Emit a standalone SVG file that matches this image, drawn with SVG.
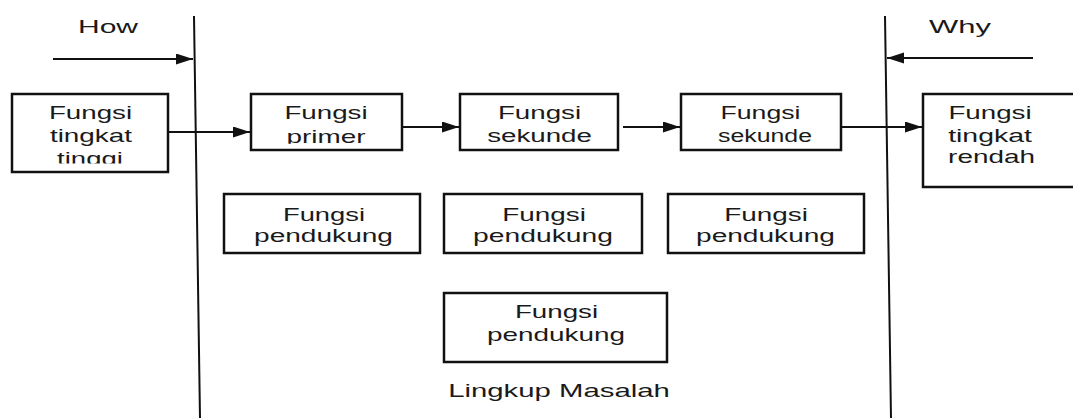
<svg xmlns="http://www.w3.org/2000/svg" width="1073" height="418" viewBox="0 0 1073 418">
  <style>
    .box { fill: #ffffff; stroke: #111111; stroke-width: 2.5; }
    .line { fill: none; stroke: #111111; stroke-width: 2; }
    .t { font-family: "Liberation Sans", Arial, sans-serif; font-size: 18px; fill: #1a1a1a; text-anchor: middle; }
    .h { font-size: 19px; }
  </style>
  <defs>
    <marker id="arr" markerUnits="userSpaceOnUse" markerWidth="18" markerHeight="12" refX="17" refY="5.5" orient="auto">
      <path d="M0,0 L17,5.5 L0,11 z" fill="#111111"/>
    </marker>
    <clipPath id="clipTinggi"><rect x="10" y="94" width="160" height="69.5"/></clipPath>
    <clipPath id="clipPrimer"><rect x="250" y="94" width="155" height="49.8"/></clipPath>
  </defs>

  <rect width="1073" height="418" fill="#ffffff"/>

  <g id="boundaries">
    <line class="line" x1="194" y1="16" x2="200" y2="418"/>
    <line class="line" x1="885" y1="16" x2="891" y2="418"/>
  </g>

  <g id="label-how">
    <text class="t h" transform="translate(108,33) scale(1.58,1)">How</text>
  </g>
  <g id="label-why">
    <text class="t h" transform="translate(960,33) scale(1.63,1)">Why</text>
  </g>

  <g id="node-tingkat-tinggi">
    <rect class="box" x="12" y="94" width="156" height="78"/>
    <g clip-path="url(#clipTinggi)">
      <text class="t" transform="translate(90.5,119) scale(1.54,1)">Fungsi</text>
      <text class="t" transform="translate(91,141.5) scale(1.55,1)">tingkat</text>
      <text class="t" transform="translate(90,164.5) scale(1.53,1)">tinggi</text>
    </g>
  </g>

  <g id="node-primer">
    <rect class="box" x="251" y="94" width="151" height="56"/>
    <g clip-path="url(#clipPrimer)">
      <text class="t" transform="translate(326,119) scale(1.54,1)">Fungsi</text>
      <text class="t" transform="translate(326,142.5) scale(1.55,1)">primer</text>
    </g>
  </g>

  <g id="node-sekunde-1">
    <rect class="box" x="460" y="94" width="158" height="56"/>
    <text class="t" transform="translate(539.5,119) scale(1.54,1)">Fungsi</text>
    <text class="t" transform="translate(539.5,142) scale(1.54,1)">sekunde</text>
  </g>

  <g id="node-sekunde-2">
    <rect class="box" x="681" y="94" width="160" height="56"/>
    <text class="t" transform="translate(760.5,119) scale(1.48,1)">Fungsi</text>
    <text class="t" transform="translate(765,142) scale(1.38,1)">sekunde</text>
  </g>

  <g id="node-tingkat-rendah">
    <rect class="box" x="923" y="94" width="160" height="93"/>
    <text class="t" transform="translate(990,119) scale(1.54,1)">Fungsi</text>
    <text class="t" transform="translate(990,142) scale(1.58,1)">tingkat</text>
    <text class="t" transform="translate(991.5,163) scale(1.55,1)">rendah</text>
  </g>

  <g id="node-pendukung-1">
    <rect class="box" x="224" y="194" width="196" height="59"/>
    <text class="t" transform="translate(324,221) scale(1.52,1)">Fungsi</text>
    <text class="t" transform="translate(323.5,242) scale(1.56,1)">pendukung</text>
  </g>

  <g id="node-pendukung-2">
    <rect class="box" x="444" y="194" width="198" height="59"/>
    <text class="t" transform="translate(544,221) scale(1.55,1)">Fungsi</text>
    <text class="t" transform="translate(543,242) scale(1.57,1)">pendukung</text>
  </g>

  <g id="node-pendukung-3">
    <rect class="box" x="668" y="194" width="196" height="59"/>
    <text class="t" transform="translate(766,221) scale(1.55,1)">Fungsi</text>
    <text class="t" transform="translate(765.5,242) scale(1.56,1)">pendukung</text>
  </g>

  <g id="node-pendukung-4">
    <rect class="box" x="444" y="293" width="223" height="69"/>
    <text class="t" transform="translate(556.5,318) scale(1.54,1)">Fungsi</text>
    <text class="t" transform="translate(556,340.5) scale(1.55,1)">pendukung</text>
  </g>

  <g id="label-lingkup">
    <text class="t" transform="translate(559,397) scale(1.63,1)">Lingkup Masalah</text>
  </g>

  <g id="connectors">
    <line class="line" x1="53" y1="59" x2="193" y2="59" marker-end="url(#arr)"/>
    <line class="line" x1="1033" y1="58" x2="887" y2="58" marker-end="url(#arr)"/>
    <line class="line" x1="168" y1="132" x2="250" y2="132" marker-end="url(#arr)"/>
    <line class="line" x1="402" y1="127" x2="459" y2="127" marker-end="url(#arr)"/>
    <line class="line" x1="623" y1="127" x2="680" y2="127" marker-end="url(#arr)"/>
    <line class="line" x1="841" y1="127" x2="922" y2="127" marker-end="url(#arr)"/>
  </g>
</svg>
